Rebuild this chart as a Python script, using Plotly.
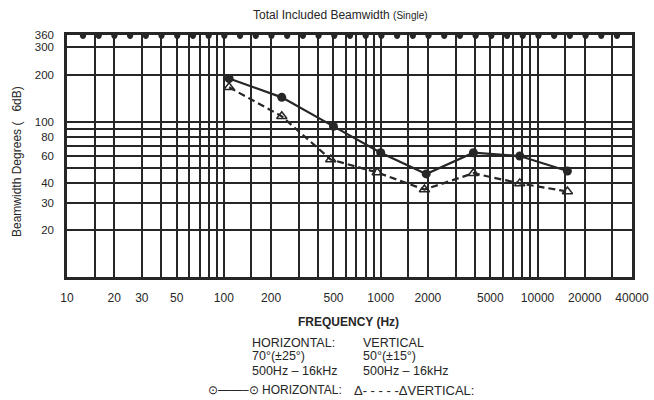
import plotly.graph_objects as go

# ---- data ----
freq_h = [108, 234, 500, 1000, 1950, 3900, 7700, 15500]
beam_h = [189, 143, 93, 63, 46, 63, 60, 48]
freq_v = [108, 234, 480, 950, 1900, 3900, 7700, 15500]
beam_v = [166, 108, 57, 47, 36.5, 46.5, 40, 35.5]

x_tick_vals = [10, 20, 30, 50, 100, 200, 500, 1000, 2000, 5000, 10000, 20000, 40000]
x_tick_text = ["10", "20", "30", "50", "100", "200", "500", "1000", "2000", "5000", "10000", "20000", "40000"]
x_grid_mult = [1, 1.5, 2, 3, 4, 5, 6, 7, 8, 9]
x_decades = [10, 100, 1000, 10000]

y_tick_vals = [20, 30, 40, 60, 80, 100, 200, 300, 360]
y_tick_text = ["20", "30", "40", "60", "80", "100", "200", "300", "360"]
y_grid_vals = [20, 30, 40, 50, 60, 70, 80, 90, 100, 200, 300]

x_minor = [d * m for d in x_decades for m in x_grid_mult if d * m <= 40000 and d * m not in x_tick_vals]

FONT = "Liberation Sans"
INK = "#262626"

fig = go.Figure()
fig.add_trace(go.Scatter(
    x=freq_h, y=beam_h, mode="lines+markers", name="HORIZONTAL",
    line=dict(color=INK, width=2.2),
    marker=dict(symbol="circle", size=9, color=INK),
    showlegend=False,
))
fig.add_trace(go.Scatter(
    x=freq_v, y=beam_v, mode="lines+markers", name="VERTICAL",
    line=dict(color=INK, width=2.2, dash="7px,4px"),
    marker=dict(symbol="triangle-up-open", size=9, color=INK, line=dict(width=1.5)),
    showlegend=False,
))

L, R, T, B = 67, 22, 35, 123
W, H = 654, 400
pw, ph = W - L - R, H - T - B

def px(xp):
    return (xp - L) / pw

def py(yp):
    return (H - B - yp) / ph

fig.update_xaxes(
    type="log", range=[1, 4.60206], automargin=False,
    tickvals=x_tick_vals, ticktext=x_tick_text, ticks="",
    showgrid=True, gridcolor=INK, gridwidth=1.5,
    minor=dict(tickvals=x_minor, showgrid=True, gridcolor=INK, gridwidth=1.5, ticks=""),
    showline=True, mirror=True, linecolor=INK, linewidth=2.5,
    tickfont=dict(family=FONT, size=12, color=INK),
    ticklabelstandoff=8, zeroline=False,
)
fig.update_yaxes(
    type="log", range=[1, 2.5563], automargin=False,
    tickvals=y_tick_vals, ticktext=y_tick_text, ticks="",
    showgrid=False,
    minor=dict(tickvals=y_grid_vals, showgrid=True, gridcolor=INK, gridwidth=1.5, ticks=""),
    showline=True, mirror=True, linecolor=INK, linewidth=2.5,
    tickfont=dict(family=FONT, size=11.5, color=INK),
    ticklabelstandoff=8, zeroline=False,
)

# decorative tabs hanging from top border
shapes = []
n_tabs = 35
rx, ry = 3.2 / pw, 4.0 / ph
for i in range(n_tabs):
    xc = px(83 + i * (617 - 83) / (n_tabs - 1))
    path = (f"M {xc - rx},1 C {xc - rx},{1 - 1.33 * ry} {xc + rx},{1 - 1.33 * ry} {xc + rx},1 Z")
    shapes.append(dict(type="path", xref="paper", yref="paper", path=path,
                       fillcolor=INK, line=dict(width=0)))

annotations = [
    dict(x=px(340), y=py(15), text="Total Included Beamwidth <span style='font-size:10px'>(Single)</span>",
         font=dict(family=FONT, size=12, color=INK)),
    dict(x=px(17), y=py(162), text="Beamwidth Degrees (   6dB)", textangle=-90,
         font=dict(family=FONT, size=12, color=INK)),
    dict(x=px(348), y=py(322), text="<b>FREQUENCY (Hz)</b>",
         font=dict(family=FONT, size=12, color=INK)),
    dict(x=px(250), y=py(343), text="HORIZONTAL:", xanchor="left",
         font=dict(family=FONT, size=12.5, color=INK)),
    dict(x=px(250), y=py(356), text="70°(±25°)", xanchor="left",
         font=dict(family=FONT, size=12.5, color=INK)),
    dict(x=px(250), y=py(371), text="500Hz – 16kHz", xanchor="left",
         font=dict(family=FONT, size=12.5, color=INK)),
    dict(x=px(361), y=py(343), text="VERTICAL", xanchor="left",
         font=dict(family=FONT, size=12.5, color=INK)),
    dict(x=px(361), y=py(356), text="50°(±15°)", xanchor="left",
         font=dict(family=FONT, size=12.5, color=INK)),
    dict(x=px(361), y=py(371), text="500Hz – 16kHz", xanchor="left",
         font=dict(family=FONT, size=12.5, color=INK)),
    dict(x=px(206), y=py(390), text="⊙——–⊙ HORIZONTAL:", xanchor="left",
         font=dict(family=FONT, size=12, color=INK)),
    dict(x=px(352), y=py(390), text="Δ- - - - -ΔVERTICAL:", xanchor="left",
         font=dict(family=FONT, size=13, color=INK)),
]
for a in annotations:
    a.update(xref="paper", yref="paper", showarrow=False, yanchor="middle")
    a.setdefault("xanchor", "center")

fig.update_layout(
    width=W, height=H,
    margin=dict(l=L, r=R, t=T, b=B),
    paper_bgcolor="white", plot_bgcolor="white",
    shapes=shapes, annotations=annotations,
    showlegend=False,
)

fig.write_html("out.html", config={"displayModeBar": False},
               post_script="document.body.style.margin='0';")
